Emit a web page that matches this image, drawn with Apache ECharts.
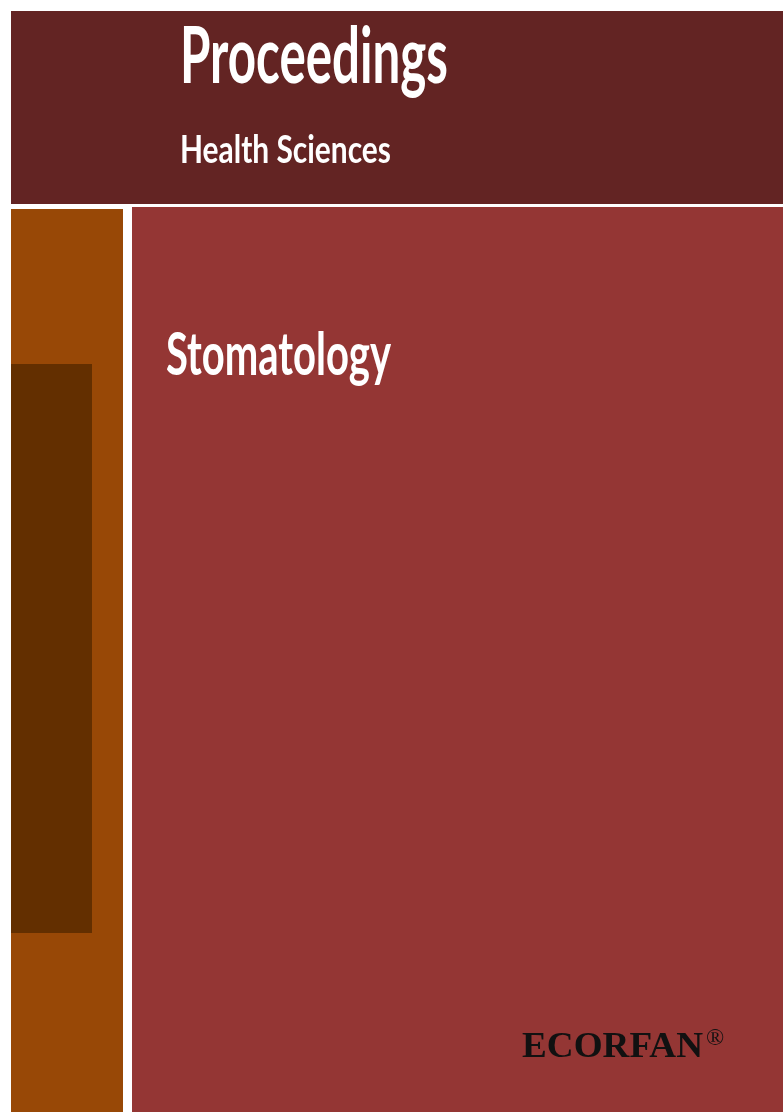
<!DOCTYPE html>
<html>
<head>
<meta charset="utf-8">
<script src="https://cdn.jsdelivr.net/npm/echarts@6/dist/echarts.min.js"></script>
<style>
html, body { margin: 0; padding: 0; background: #fff; }
#cover { width: 783px; height: 1112px; }
</style>
</head>
<body>
<div id="cover"></div>
<script>
// cover texts
var seriesName = "Proceedings";
var subject = "Health Sciences";
var topic = "Stomatology";
var publisher = "ECORFAN";
var regMark = "®";

var chart = echarts.init(document.getElementById("cover"));

// squeeze a text to a target width (the cover uses a condensed face)
var ctx = document.createElement("canvas").getContext("2d");
function fitScale(text, font, width) {
  ctx.font = font;
  return width / ctx.measureText(text).width;
}

function label(text, left, midY, width, size, family, color) {
  var font = "bold " + size + "px " + family;
  return {
    type: "text",
    x: left,
    y: midY,
    scaleX: fitScale(text, font, width),
    style: {
      text: text,
      font: font,
      fill: color,
      align: "left",
      verticalAlign: "middle"
    }
  };
}

var sans = "Lato, 'Open Sans', sans-serif";
var serif = "'Liberation Serif', 'DejaVu Serif', serif";

var option = {
  backgroundColor: "#ffffff",
  graphic: [
    { type: "rect", shape: { x: 11, y: 11, width: 772, height: 193 }, style: { fill: "#632423" } },
    { type: "rect", shape: { x: 11, y: 209, width: 112, height: 903 }, style: { fill: "#984806" } },
    { type: "rect", shape: { x: 132, y: 207, width: 651, height: 905 }, style: { fill: "#943634" } },
    { type: "rect", shape: { x: 11, y: 364, width: 81, height: 569 }, style: { fill: "#632f00" } },
    label(seriesName, 180, 58, 268, 78, sans, "#ffffff"),
    label(subject, 180, 150, 211, 39, sans, "#ffffff"),
    label(topic, 166, 356, 225, 60, sans, "#ffffff"),
    label(publisher, 522, 1048, 181, 36, serif, "#111111"),
    {
      type: "text",
      x: 706,
      y: 1039,
      style: { text: regMark, font: "24px " + serif, fill: "#111111", align: "left", verticalAlign: "middle" }
    }
  ]
};

chart.setOption(option);
</script>
</body>
</html>
